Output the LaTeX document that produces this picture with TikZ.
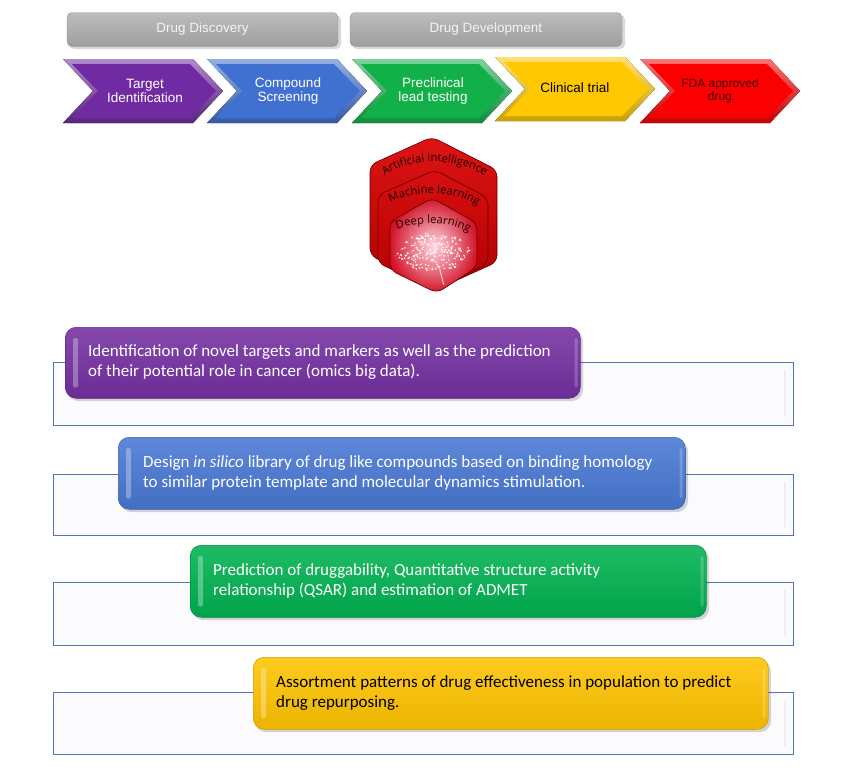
\documentclass[tikz,border=0pt]{standalone}
\usepackage{fontspec}
\setmainfont{Liberation Sans}
\newfontfamily\calfont{Carlito}
\newfontfamily\hexfont{Open Sans}
\usetikzlibrary{decorations.text}

\definecolor{cpurple}{RGB}{112,42,162}
\definecolor{cblue}{RGB}{64,112,208}
\definecolor{cgreen}{RGB}{18,176,72}
\definecolor{cyellow}{RGB}{255,200,0}
\definecolor{cred}{RGB}{250,0,0}
\definecolor{cframe}{RGB}{84,116,190}
\definecolor{framefill}{RGB}{251,251,253}
\definecolor{hexdark}{RGB}{110,0,0}
\definecolor{hextext}{RGB}{30,0,0}
\definecolor{fdatext}{RGB}{70,0,0}
\definecolor{lpurple}{RGB}{116,48,162}
\definecolor{lblue}{RGB}{72,120,212}
\definecolor{lgreen}{RGB}{0,178,80}
\definecolor{lyellow}{RGB}{255,196,0}
\definecolor{graytop}{RGB}{188,188,188}
\definecolor{graybot}{RGB}{158,158,158}
\definecolor{grayline}{RGB}{150,150,150}
\definecolor{graytext}{RGB}{244,244,244}
\definecolor{hexAtop}{RGB}{222,20,20}
\definecolor{hexAbot}{RGB}{175,0,0}
\definecolor{hexBtop}{RGB}{215,15,15}
\definecolor{hexBbot}{RGB}{180,0,0}
\definecolor{hexCin}{RGB}{255,215,225}
\definecolor{hexCout}{RGB}{210,20,40}

\newcommand\chevron[3]{%
 \begin{scope}[shift={(#1,#2)}]
 \fill[top color=#3!55!white, bottom color=#3!80!black] (0,0) -- (130,0) -- (160,-32) -- (130,-64) -- (0,-64) -- (30,-32) -- cycle;
 \fill[#3] (9,-5) -- (127,-5) -- (153,-32) -- (127,-59) -- (9,-59) -- (35,-32) -- cycle;
 \end{scope}}

\tikzset{
 graybar/.style={rounded corners=5, top color=graytop, bottom color=graybot,
   draw=grayline, line width=0.4, minimum height=34, text=graytext,
   font=\fontsize{13.5}{16}\selectfont, inner sep=0},
 chevtext/.style={align=center, text=white, font=\fontsize{13.5}{14.5}\selectfont, inner sep=0},
 frame/.style={draw=cframe, line width=1, fill=framefill},
 lbox/.style={rounded corners=11, draw=#1!80!black, line width=0.5, inner sep=0, anchor=north west,
   top color=#1!88!white, bottom color=#1!92!black, minimum height=71},
 btext/.style={anchor=west, align=left, inner sep=0, font=\calfont\fontsize{17}{20}\selectfont},
 hexlabel/.style={decorate, decoration={text along path, text align=center, text color=hextext}}
}

\begin{document}
\begin{tikzpicture}[x=1pt,y=1pt]
\useasboundingbox (0,0) rectangle (854,-780);
\fill[white] (0,0) rectangle (854,-780);

% ---- top phase bars
\fill[gray!30, rounded corners=5] (69,-15) rectangle (341,-49);
\fill[gray!30, rounded corners=5] (352,-15) rectangle (625,-49);
\node[graybar, minimum width=271] (dd) at (202.5,-29.5) {Drug Discovery};
\node[graybar, minimum width=272] (ddev) at (486,-29.5) {Drug Development};

% ---- chevrons
\chevron{640}{-59}{cred}
\chevron{495}{-57}{cyellow}
\chevron{352}{-59}{cgreen}
\chevron{207}{-59}{cblue}
\chevron{63}{-59}{cpurple}
\node[chevtext] (c1) at (145,-91) {Target\\Identification};
\node[chevtext] (c2) at (288,-91) {Compound\\Screening};
\node[chevtext] (c3) at (433,-91) {Preclinical\\lead testing};
\node[chevtext, text=black] (c4) at (575,-88) {Clinical trial};
\node[chevtext, text=fdatext, font=\fontsize{12}{13.5}\selectfont] (c5) at (720,-91) {FDA approved\\drug};

% ---- AI hexagon
\shade[top color=hexAtop, bottom color=hexAbot, rounded corners=7]
  (432,-137) -- (497,-170) -- (497,-262) -- (435,-290) -- (370,-255) -- (370,-165) -- cycle;
\draw[hexdark, line width=0.7, rounded corners=7]
  (432,-137) -- (497,-170) -- (497,-262) -- (435,-290) -- (370,-255) -- (370,-165) -- cycle;
\shade[top color=hexBtop, bottom color=hexBbot, rounded corners=7]
  (435,-170) -- (488,-198) -- (488,-263) -- (437,-290) -- (378,-263) -- (378,-195) -- cycle;
\draw[hexdark, line width=0.7, rounded corners=7]
  (435,-170) -- (488,-198) -- (488,-263) -- (437,-290) -- (378,-263) -- (378,-195) -- cycle;
\shade[inner color=hexCin, outer color=hexCout, rounded corners=7]
  (432,-198) -- (477,-223) -- (477,-267) -- (437,-293) -- (390,-270) -- (390,-222) -- cycle;
\draw[hexdark, line width=0.7, rounded corners=7]
  (432,-198) -- (477,-223) -- (477,-267) -- (437,-293) -- (390,-270) -- (390,-222) -- cycle;

% brain of dots
\pgfmathsetseed{11}
\foreach \i in {1,...,200}{
  \pgfmathsetmacro\ang{360*rnd}
  \pgfmathsetmacro\rr{sqrt(rnd)}
  \pgfmathsetmacro\px{433+37*\rr*cos(\ang)}
  \pgfmathsetmacro\py{-252+19*\rr*sin(\ang)}
  \fill[white, opacity=0.9] (\px,\py) circle (0.9);
  \pgfmathsetmacro\dx{10*rnd-5}
  \pgfmathsetmacro\dy{6*rnd-3}
  \draw[white, opacity=0.35, line width=0.3] (\px,\py) -- ++(\dx,\dy);
}
\foreach \t in {0,...,7}{
  \fill[white, opacity=0.8] ({440+0.5*\t},{-270-2*\t}) circle (0.8);
}

\path[hexlabel, decoration={text={|\hexfont\fontsize{11.3}{13}\selectfont|Artificial intelligence}}]
  (376,-182) .. controls (405,-155) and (460,-155) .. (494,-182);
\path[hexlabel, decoration={text={|\hexfont\fontsize{11.3}{13}\selectfont|Machine learning}}]
  (382,-208) .. controls (405,-188) and (460,-188) .. (486,-212);
\path[hexlabel, decoration={text={|\hexfont\fontsize{11.3}{13}\selectfont|Deep learning}}]
  (391,-233) .. controls (410,-220) and (455,-220) .. (475,-236);

% ---- lower frames
\foreach \yt/\yb in {362/425, 474/535, 582/645, 692/754}{
  \draw[frame] (53,-\yt) rectangle (793,-\yb);
  \draw[gray!12, line width=1.2] (785,-\yt-8) -- (785,-\yb+8);
}

% ---- lower boxes
\fill[black, opacity=0.16, rounded corners=11] (67,-330) rectangle (583,-401);
\fill[black, opacity=0.16, rounded corners=11] (120,-440) rectangle (688,-512);
\fill[black, opacity=0.16, rounded corners=11] (192,-548) rectangle (709,-620);
\fill[black, opacity=0.16, rounded corners=11] (255,-660) rectangle (771,-732);

\node[lbox=lpurple, minimum width=515] (b1) at (65,-327) {};
\node[lbox=lblue, minimum width=567, minimum height=72] (b2) at (118,-437) {};
\node[lbox=lgreen, minimum width=516, minimum height=72] (b3) at (190,-545) {};
\node[lbox=lyellow, minimum width=515, minimum height=72] (b4) at (253,-657) {};

\foreach \b in {b1,b2,b3,b4}{
  \fill[white, opacity=0.3, rounded corners=2] ([xshift=8,yshift=-11]\b.north west) rectangle ([xshift=13,yshift=11]\b.south west);
  \fill[white, opacity=0.2, rounded corners=2] ([xshift=-6,yshift=-11]\b.north east) rectangle ([xshift=-3,yshift=11]\b.south east);
}

\node[btext, text=white] (t1) at ([xshift=23,yshift=0.5]b1.west)
  {Identification of novel targets and markers as well as the prediction\\of their potential role in cancer (omics big data).};
\node[btext, text=white] (t2) at ([xshift=25,yshift=0]b2.west)
  {Design \textit{in silico} library of drug like compounds based on binding homology\\to similar protein template and molecular dynamics stimulation.};
\node[btext, text=white] (t3) at ([xshift=23,yshift=0]b3.west)
  {Prediction of druggability, Quantitative structure activity\\relationship (QSAR) and estimation of ADMET};
\node[btext, text=black] (t4) at ([xshift=23,yshift=0]b4.west)
  {Assortment patterns of drug effectiveness in population to predict\\drug repurposing.};
\end{tikzpicture}
\end{document}
